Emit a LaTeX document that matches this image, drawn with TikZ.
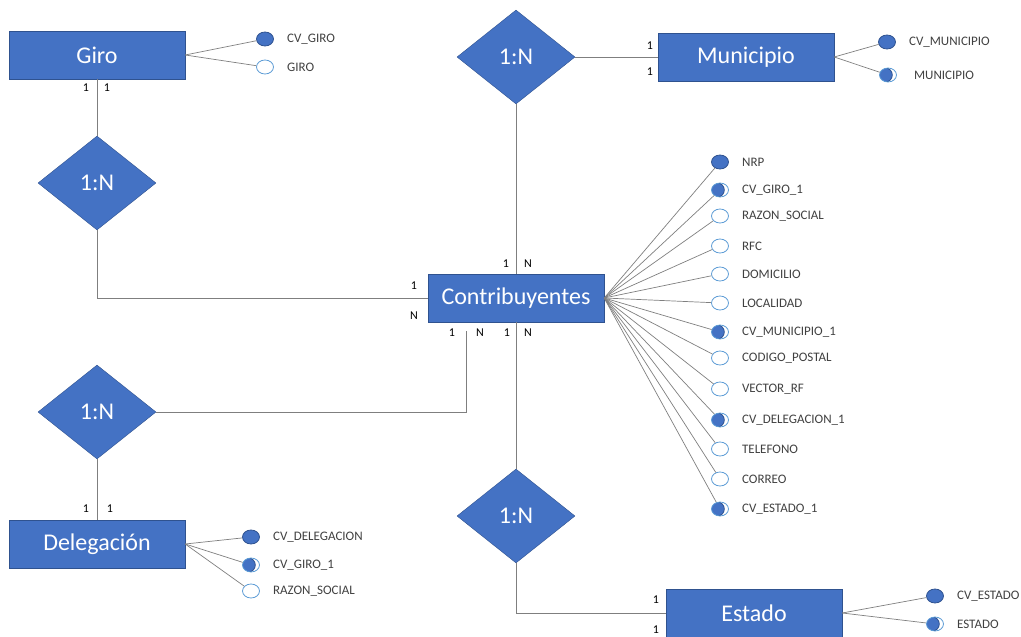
\documentclass[tikz,border=0pt]{standalone}
\usepackage{fontspec}
\setmainfont{Carlito}
\usepackage{xcolor}
\usetikzlibrary{positioning, shapes.geometric, calc}
\definecolor{ofblue}{HTML}{4472C4}
\definecolor{ofdark}{HTML}{2F528F}
\definecolor{oflight}{HTML}{5B9BD5}
\definecolor{linkgray}{HTML}{7F7F7F}

\begin{document}
\begin{tikzpicture}[x=1pt,y=-1pt,
    entity/.style={draw=ofdark, fill=ofblue, text=white, inner sep=0,
      minimum width=176pt, minimum height=48pt, font=\fontsize{24}{28}\selectfont},
    rel/.style={diamond, draw=ofdark, fill=ofblue, text=white, inner sep=0,
      minimum width=118pt, minimum height=94pt, font=\fontsize{24}{28}\selectfont},
    link/.style={draw=linkgray, line width=0.7pt},
    card/.style={inner sep=0, font=\fontsize{12}{14}\selectfont},
    attr/.style={ellipse, inner sep=0, minimum width=17pt, minimum height=14pt,
      line width=0.8pt},
    lbl/.style={inner sep=0, xshift=13pt, text=black!75, font=\fontsize{13}{15}\selectfont},
    key/.style={attr, draw=ofdark, fill=ofblue},
    plain/.style={attr, draw=oflight, fill=white},
    fkey/.style={attr, draw=oflight, fill=white,
      path picture={\filldraw[fill=ofblue, draw=ofdark]
        ($(path picture bounding box.center)+(-2.5,0)$) ellipse (6.8pt and 7pt);}}]
    \useasboundingbox (0,0) rectangle (1021,637);

    % entities
    \node[entity] (giro) at (97,55) {Giro};
    \node[entity] (mun) at (746,57) {Municipio};
    \node[entity] (contrib) at (516,298) {Contribuyentes};
    \node[entity] (deleg) at (97,544) {Delegación};
    \node[entity] (estado) at (754,613) {Estado};

    % relations
    \node[rel] (rTop) at (516,57) {1:N};
    \node[rel] (rGiro) at (97,183) {1:N};
    \node[rel] (rDel) at (97,412) {1:N};
    \node[rel] (rEst) at (516,516) {1:N};
    \coordinate (cDel) at (466,331);

    % connectors
    \draw[link] (giro) -- (rGiro);
    \draw[link] (rGiro.south) |- (contrib.west);
    \draw[link] (rTop) -- (mun);
    \draw[link] (rTop) -- (contrib);
    \draw[link] (rDel.east) -| (cDel);
    \draw[link] (rDel) -- (deleg);
    \draw[link] (contrib) -- (rEst);
    \draw[link] (rEst.south) |- (estado.west);

    % cardinalities
    \node[card] (k1) at (86,88) {1};
    \node[card] (k2) at (107,88) {1};
    \node[card] (k3) at (414,286) {1};
    \node[card] (k4) at (414,316) {N};
    \node[card] (k5) at (650,46) {1};
    \node[card] (k6) at (650,72) {1};
    \node[card] (k7) at (506,264) {1};
    \node[card] (k8) at (528,264) {N};
    \node[card] (k9) at (452,333) {1};
    \node[card] (k10) at (480,333) {N};
    \node[card] (k11) at (507,333) {1};
    \node[card] (k12) at (528,333) {N};
    \node[card] (k13) at (86,509) {1};
    \node[card] (k14) at (110,509) {1};
    \node[card] (k15) at (656,600) {1};
    \node[card] (k16) at (656,630) {1};

    % Giro attributes
    \node[key, label={[lbl]right:CV\_GIRO}] (gKey) at (265,39) {};
    \node[plain, label={[lbl]right:GIRO}] (gName) at (265,67) {};
    \draw[link] (giro.east) -- (gKey);
    \draw[link] (giro.east) -- (gName);

    % Municipio attributes
    \node[key, label={[lbl]right:CV\_MUNICIPIO}] (mKey) at (887,42) {};
    \node[fkey, label={[lbl,xshift=4pt]right:MUNICIPIO}] (mName) at (888,75) {};
    \draw[link] (mun.east) -- (mKey);
    \draw[link] (mun.east) -- (mName);

    % Delegacion attributes
    \node[key, label={[lbl]right:CV\_DELEGACION}] (dKey) at (251,537) {};
    \node[fkey, label={[lbl]right:CV\_GIRO\_1}] (dGiro) at (251,565) {};
    \node[plain, label={[lbl]right:RAZON\_SOCIAL}] (dRazon) at (251,591) {};
    \draw[link] (deleg.east) -- (dKey);
    \draw[link] (deleg.east) -- (dGiro);
    \draw[link] (deleg.east) -- (dRazon);

    % Estado attributes
    \node[key, label={[lbl]right:CV\_ESTADO}] (eKey) at (935,596) {};
    \node[fkey, label={[lbl]right:ESTADO}] (eName) at (935,624) {};
    \draw[link] (estado.east) -- (eKey);
    \draw[link] (estado.east) -- (eName);

    % Contribuyentes attributes
    \node[key, label={[lbl]right:NRP}] (aNrp) at (720,162) {};
    \node[fkey, label={[lbl]right:CV\_GIRO\_1}] (aGiro) at (720,190) {};
    \node[plain, label={[lbl]right:RAZON\_SOCIAL}] (aRazon) at (720,216) {};
    \node[plain, label={[lbl]right:RFC}] (aRfc) at (720,246) {};
    \node[plain, label={[lbl]right:DOMICILIO}] (aDom) at (720,274) {};
    \node[plain, label={[lbl]right:LOCALIDAD}] (aLoc) at (720,303) {};
    \node[fkey, label={[lbl]right:CV\_MUNICIPIO\_1}] (aMun) at (720,332) {};
    \node[plain, label={[lbl]right:CODIGO\_POSTAL}] (aCp) at (720,358) {};
    \node[plain, label={[lbl]right:VECTOR\_RF}] (aVec) at (720,389) {};
    \node[fkey, label={[lbl]right:CV\_DELEGACION\_1}] (aDel) at (720,420) {};
    \node[plain, label={[lbl]right:TELEFONO}] (aTel) at (720,449) {};
    \node[plain, label={[lbl]right:CORREO}] (aMail) at (720,479) {};
    \node[fkey, label={[lbl]right:CV\_ESTADO\_1}] (aEst) at (720,509) {};
    \draw[link] (contrib.east) -- (aNrp);
    \draw[link] (contrib.east) -- (aGiro);
    \draw[link] (contrib.east) -- (aRazon);
    \draw[link] (contrib.east) -- (aRfc);
    \draw[link] (contrib.east) -- (aDom);
    \draw[link] (contrib.east) -- (aLoc);
    \draw[link] (contrib.east) -- (aMun);
    \draw[link] (contrib.east) -- (aCp);
    \draw[link] (contrib.east) -- (aVec);
    \draw[link] (contrib.east) -- (aDel);
    \draw[link] (contrib.east) -- (aTel);
    \draw[link] (contrib.east) -- (aMail);
    \draw[link] (contrib.east) -- (aEst);
  \end{tikzpicture}
\end{document}
